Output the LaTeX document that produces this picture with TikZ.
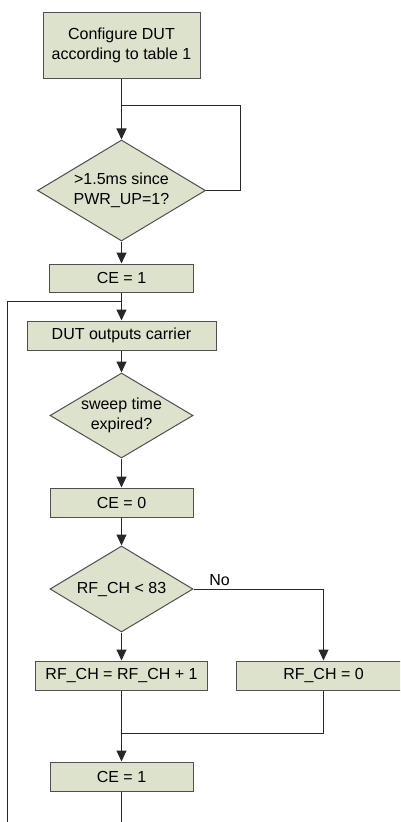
\documentclass[tikz,border=0pt]{standalone}
\usepackage{fontspec}
\setmainfont{Liberation Sans}
\usetikzlibrary{positioning}
\usetikzlibrary{calc}
\usetikzlibrary{shapes.geometric}
\usetikzlibrary{arrows.meta}

\definecolor{boxfill}{RGB}{221,226,204}
\definecolor{boxline}{RGB}{80,80,80}
\definecolor{wire}{RGB}{40,40,40}

\begin{document}
\begin{tikzpicture}[x=1pt, y=-1pt, >={Triangle[width=10pt, length=11pt]},
                    font=\fontsize{16}{20}\selectfont,
                    proc/.style={rectangle, draw=boxline, fill=boxfill, line width=1pt, align=center,
                                 minimum width=143pt, minimum height=29pt, inner sep=0pt},
                    test/.style={diamond, draw=boxline, fill=boxfill, line width=1pt,
                                 minimum width=143pt, minimum height=86pt, inner sep=0pt,
                                 label={[align=center, inner sep=0pt]center:#1}},
                    flow/.style={draw=wire, line width=1pt},
                    no/.style={inner sep=2pt}]
    \useasboundingbox (0,0) rectangle (400,822);
    \clip (0,0) rectangle (400,822);

    \node[proc, minimum width=157pt, minimum height=66pt] (cfg) at (121.5,45) {Configure DUT\\according to table 1};
    \node[test={>1.5ms since\\PWR\_UP=1?}, minimum width=168pt, minimum height=101pt, below=61pt of cfg] (wait) {};
    \node[proc, minimum width=144pt, minimum height=28pt, below=22pt of wait] (ce1) {CE = 1};
    \node[proc, minimum width=189pt, below=28pt of ce1] (carrier) {DUT outputs carrier};
    \node[test={sweep time\\expired?}, minimum height=85pt, below=22pt of carrier] (sweep) {};
    \node[proc, below=29pt of sweep] (ce0) {CE = 0};
    \node[test={RF\_CH < 83}, below=28pt of ce0] (rfchk) {};
    \node[proc, minimum width=172pt, below=28pt of rfchk] (inc) {RF\_CH = RF\_CH + 1};
    \node[proc, minimum width=174pt, right=28pt of inc] (reset) {RF\_CH = 0};
    \node[proc, below=71pt of inc] (ce1b) {CE = 1};

    \coordinate (waitin) at ($(cfg.south)+(0,27)$);
    \coordinate (retin) at ($(ce1.south)+(0,9)$);
    \coordinate (merge) at ($(inc.south)+(0,43)$);
    \coordinate (ret) at (7,840);

    \draw[flow, ->] (cfg) -- (wait);
    \draw[flow] (wait.east) -- ++(34,0) |- (waitin);
    \draw[flow, ->] (wait) -- (ce1);
    \draw[flow, ->] (ce1) -- (carrier);
    \draw[flow] (ret) |- (retin);
    \draw[flow, ->] (carrier) -- (sweep);
    \draw[flow, ->] (sweep) -- (ce0);
    \draw[flow, ->] (ce0) -- (rfchk);
    \draw[flow, ->] (rfchk.east) -| (reset.north) node[no, pos=0.1, above=1pt] {No};
    \draw[flow, ->] (rfchk) -- (inc);
    \draw[flow, ->] (inc) -- (ce1b);
    \draw[flow] (reset.south) |- (merge);
    \draw[flow] (ce1b.south) -- (ce1b.south |- ret);
\end{tikzpicture}
\end{document}
